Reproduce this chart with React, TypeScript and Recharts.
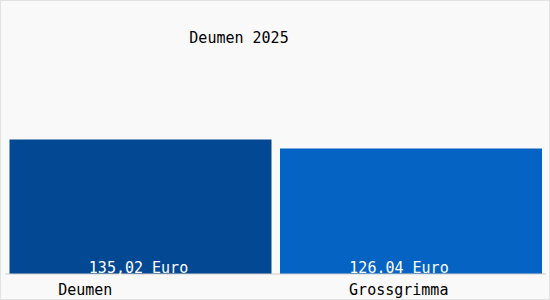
import { BarChart, Bar, XAxis, YAxis, Cell, LabelList } from 'recharts';

const places = ['Deumen', 'Grossgrimma'];
const prices = [135.02, 126.04];
const priceLabels = ['135,02 Euro', '126.04 Euro'];
const barColors = ['#034893', '#0563c4'];

// the source draws its labels a bit left of the bar centres
const tickShift = [-55, -12];
const labelShift = [-2, -12];

const data = places.map((name, i) => ({ name, price: prices[i], label: priceLabels[i] }));

const FONT = '"DejaVu Sans Mono", monospace';

const PlaceTick = (props: any) => {
  const { x, y, payload, index } = props;
  return (
    <text x={x + tickShift[index]} y={y + 21} textAnchor="middle" fontFamily={FONT} fontSize={15} fill="#000">
      {payload.value}
    </text>
  );
};

const PriceLabel = (props: any) => {
  const { x, y, width, height, index } = props;
  return (
    <text
      x={x + width / 2 + labelShift[index]}
      y={y + height - 1}
      textAnchor="middle"
      fontFamily={FONT}
      fontSize={15}
      fill="#fff"
    >
      {priceLabels[index]}
    </text>
  );
};

const App = () => {
  return (
    <div style={{ position: 'absolute', left: 0, top: 0, width: 550, height: 300, background: '#f9f9f9' }}>
      <div
        style={{
          position: 'absolute',
          left: 0,
          top: 0,
          width: 548,
          height: 298,
          border: '1px solid #e2e2e2',
          pointerEvents: 'none',
        }}
      />
      <div
        style={{
          position: 'absolute',
          left: 179,
          top: 31,
          width: 120,
          textAlign: 'center',
          fontFamily: FONT,
          fontSize: 15,
          lineHeight: '15px',
          color: '#000',
        }}
      >
        Deumen 2025
      </div>
      <BarChart width={550} height={300} data={data} margin={{ top: 5, right: 4, bottom: 0, left: 5 }} barCategoryGap={4.5}>
        <YAxis hide domain={[0, 270]} />
        <XAxis
          dataKey="name"
          height={26}
          tickSize={0}
          tickMargin={0}
          tickLine={false}
          axisLine={{ stroke: '#cfcfcf' }}
          tick={<PlaceTick />}
          interval={0}
        />
        <Bar dataKey="price" isAnimationActive={false}>
          {data.map((d, i) => (
            <Cell key={d.name} fill={barColors[i]} />
          ))}
          <LabelList dataKey="label" content={<PriceLabel />} />
        </Bar>
      </BarChart>
    </div>
  );
};

export default App;
